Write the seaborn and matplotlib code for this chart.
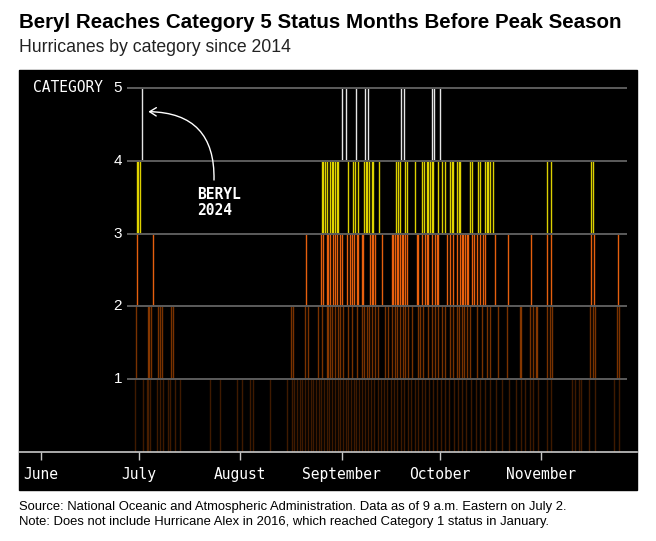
import matplotlib
matplotlib.use("Agg")
import numpy as np
import pandas as pd
import matplotlib.pyplot as plt
from matplotlib.patches import Rectangle
import seaborn as sns

# day of year (non-leap) of each reading, one list per category
cat1_days = [180.8, 183.3, 184.3, 184.8, 185.4, 187.4, 188.4, 189.4, 191.0, 191.5,
             193.0, 194.5, 203.7, 206.8, 211.9, 213.4, 216.0, 217.0, 222.1, 227.2,
             228.7, 229.5, 230.4, 231.2, 232.0, 232.9, 233.6, 234.5, 235.3, 236.1,
             237.0, 237.8, 238.5, 239.4, 240.2, 241.1, 241.9, 242.8, 243.6, 244.3,
             245.2, 246.1, 247.0, 247.8, 248.5, 249.4, 250.3, 251.2, 252.0, 253.1,
             254.0, 255.0, 256.2, 257.1, 258.0, 259.2, 260.1, 261.0, 262.2, 263.1,
             264.3, 265.2, 266.4, 267.3, 268.5, 269.6, 270.8, 272.0, 273.2, 274.5,
             275.7, 277.0, 278.3, 279.5, 280.8, 282.0, 283.5, 285.0, 286.4, 288.0,
             289.5, 291.2, 293.0, 295.1, 297.3, 299.0, 300.2, 301.5, 302.6, 304.0,
             306.8, 308.0, 314.6, 315.4, 316.5, 317.2, 319.7, 321.4, 327.5, 328.8]
cat2_days = [181.1, 184.8, 185.2, 185.6, 187.9, 188.4, 189.0, 191.8, 192.5, 228.4,
             229.0, 232.8, 233.8, 236.9, 237.9, 239.4, 239.9, 240.4, 241.0, 242.0,
             243.0, 243.5, 244.5, 246.0, 247.1, 248.6, 250.1, 250.8, 251.7, 252.5,
             253.2, 254.2, 255.2, 257.3, 258.3, 259.3, 260.3, 261.0, 261.9, 262.7,
             263.4, 264.4, 265.4, 267.5, 268.0, 269.0, 270.5, 271.6, 272.6, 273.6,
             274.6, 275.6, 277.2, 278.2, 279.2, 280.0, 280.7, 281.4, 282.3, 283.3,
             285.3, 286.9, 288.4, 289.4, 291.9, 294.5, 298.6, 298.9, 301.6, 302.7,
             303.5, 303.7, 306.8, 307.8, 308.3, 320.0, 321.0, 321.5, 328.2, 328.9]
cat3_days = [181.3, 186.4, 233.1, 237.6, 238.4, 239.4, 239.9, 240.4, 241.5, 242.0,
             242.5, 243.5, 244.0, 245.6, 246.6, 247.1, 247.8, 248.6, 249.1, 250.1,
             250.6, 252.7, 253.2, 253.7, 254.2, 256.3, 259.3, 259.8, 260.3, 260.9,
             261.4, 261.9, 262.4, 262.9, 263.4, 263.9, 267.0, 267.5, 268.5, 269.5,
             270.0, 270.5, 271.6, 272.6, 273.1, 273.6, 276.2, 277.2, 278.2, 279.2,
             280.2, 280.7, 281.2, 281.8, 282.3, 282.8, 283.8, 284.6, 285.3, 286.3,
             287.4, 287.9, 290.9, 295.0, 302.0, 306.8, 308.0, 320.2, 321.2, 328.7]
cat4_days = [181.5, 181.8, 182.3, 237.9, 238.4, 238.9, 239.4, 240.4, 241.0, 241.5,
             242.0, 242.5, 243.0, 246.0, 247.6, 248.1, 248.9, 250.8, 251.4, 251.9,
             252.4, 253.4, 253.7, 255.5, 260.6, 261.2, 261.9, 263.5, 264.1, 266.5,
             268.7, 269.2, 270.0, 270.5, 271.0, 271.6, 272.1, 273.6, 274.6, 275.6,
             277.2, 277.7, 278.2, 279.4, 279.8, 280.2, 283.3, 283.8, 285.8, 286.3,
             287.9, 288.4, 288.9, 289.4, 290.2, 306.8, 308.0, 320.3, 321.0]
cat5_days = [182.8, 244.2, 245.3, 248.4, 251.1, 252.0, 262.2, 263.2, 271.7, 272.3,
             274.1]

categories = [1, 2, 3, 4, 5]
month_names = ["June", "July", "August", "September", "October", "November"]
month_starts = [152, 182, 213, 244, 274, 305]

cat_colors = ["#ff6a00", "#ff6a00", "#ff6a10", "#f5e800", "#ffffff"]
cat_alpha = [0.25, 0.48, 0.9, 0.9, 0.9]

df = pd.concat([pd.DataFrame({"category": c, "day": d})
                for c, d in zip(categories, [cat1_days, cat2_days, cat3_days,
                                             cat4_days, cat5_days])])

sns.set_theme(style="dark")
mono = "DejaVu Sans Mono"
sans = "Liberation Sans"

fig = plt.figure(figsize=(6.56, 5.41), dpi=100)
fig.patch.set_facecolor("white")
W, H = 656, 541

# black panel behind the chart
fig.patches.append(Rectangle((19 / W, 51 / H), 618 / W, 420 / H,
                             transform=fig.transFigure, color="black", zorder=-1))

ax = fig.add_axes([19 / W, 89 / H, 618 / W, 382 / H])
ax.set_facecolor("black")
ax.set_xlim(145.28, 334.39)
ax.set_ylim(0, 5.247)

for (cat, grp), color, a in zip(df.groupby("category"), cat_colors, cat_alpha):
    ax.vlines(grp["day"], cat - 1, cat, color=color, alpha=a, lw=1.0, zorder=2)

ax.hlines(categories, 178.3, 331.3, color="#5c5c5c", lw=1.4, zorder=3)

for c in categories:
    ax.text(176.8, c, str(c), ha="right", va="center", color="white",
            fontsize=11, family=sans)
ax.text(171.0, 5, "CATEGORY", ha="right", va="center", color="white",
        fontsize=10.5, family=mono)

ax.annotate("", xy=(184.85, 4.675), xytext=(204.95, 3.736),
            arrowprops=dict(arrowstyle="->,head_length=0.4,head_width=0.25",
                            color="white", lw=1, shrinkA=0, shrinkB=0,
                            connectionstyle="arc3,rad=0.5"))
ax.text(199.75, 3.427, "BERYL\n2024", ha="left", va="center", color="white",
        fontsize=10.5, family=mono, fontweight="bold", linespacing=1.15)

ax.set_xticks(month_starts, month_names)
ax.set_yticks([])
ax.tick_params(axis="x", colors="white", length=6, width=1, pad=4.5,
               labelsize=10.5, direction="out", bottom=True)
for lab in ax.get_xticklabels():
    lab.set_family(mono)
ax.tick_params(axis="x", color="#c8c8c8")
for side in ["top", "left", "right"]:
    ax.spines[side].set_visible(False)
ax.spines["bottom"].set_color("#c8c8c8")
ax.spines["bottom"].set_linewidth(1.2)
ax.grid(False)

fig.text(19 / W, 1 - 22 / H, "Beryl Reaches Category 5 Status Months Before Peak Season",
         ha="left", va="center", fontsize=14.8, fontweight="bold", family=sans, color="black")
fig.text(19 / W, 1 - 48 / H, "Hurricanes by category since 2014",
         ha="left", va="center", fontsize=12.7, family=sans, color="#222222")
fig.text(19 / W, 1 - 507 / H,
         "Source: National Oceanic and Atmospheric Administration. Data as of 9 a.m. Eastern on July 2.",
         ha="left", va="center", fontsize=9.4, family=sans, color="black")
fig.text(19 / W, 1 - 522 / H,
         "Note: Does not include Hurricane Alex in 2016, which reached Category 1 status in January.",
         ha="left", va="center", fontsize=9.4, family=sans, color="black")

fig.savefig("out.png", dpi=100)
